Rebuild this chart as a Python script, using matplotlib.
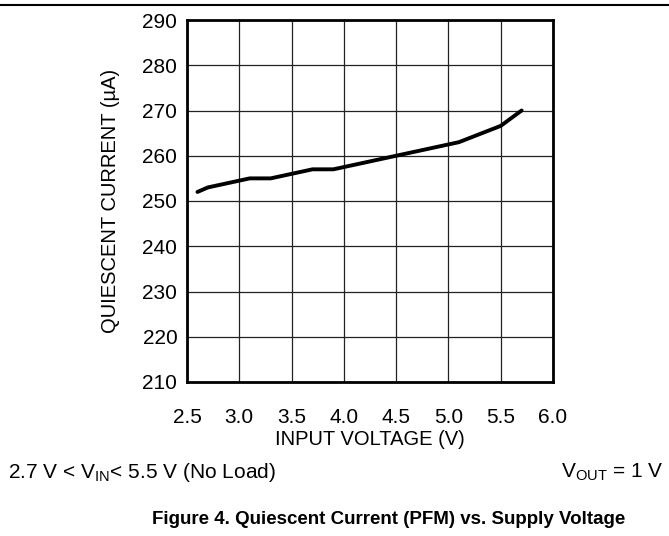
import matplotlib
matplotlib.use('Agg')
import matplotlib.pyplot as plt
from matplotlib.lines import Line2D

plt.rcParams['font.family'] = ['Liberation Sans', 'DejaVu Sans']
plt.rcParams['mathtext.fontset'] = 'custom'
plt.rcParams['mathtext.rm'] = 'Liberation Sans'

vin = [2.6, 2.7, 3.1, 3.3, 3.7, 3.9, 4.5, 5.1, 5.5, 5.7]
iq = [252.0, 253.0, 255.0, 255.0, 257.0, 257.0, 260.0, 263.0, 266.6, 270.0]

xticks = [2.5, 3.0, 3.5, 4.0, 4.5, 5.0, 5.5, 6.0]
yticks = [210, 220, 230, 240, 250, 260, 270, 280, 290]

fig = plt.figure(figsize=(6.69, 5.36), dpi=100)
ax = fig.add_axes([187/669, 1-382/536, (553-187)/669, (382-20)/536])

ax.plot(vin, iq, color='black', lw=2.8, solid_capstyle='round')
ax.set_xlim(2.5, 6.0)
ax.set_ylim(210, 290)
ax.set_xticks(xticks)
ax.set_xticklabels(['%.1f' % v for v in xticks])
ax.set_yticks(yticks)
ax.grid(True, color='#222222', lw=0.9)
ax.tick_params(length=0, labelsize=15, pad=7)
ax.tick_params(axis='x', pad=19)
for s in ax.spines.values():
    s.set_linewidth(2.0)

ax.set_xlabel('INPUT VOLTAGE (V)', fontsize=14.5, labelpad=2)
ax.set_ylabel('QUIESCENT CURRENT (\u00b5A)', fontsize=14.5, labelpad=16)

fig.text(8/669, 1-472/536, r'2.7 V < V$_{\mathrm{IN}}$< 5.5 V (No Load)', fontsize=15,
         va='center', ha='left')
fig.text(664/669, 1-472/536, r'V$_{\mathrm{OUT}}$ = 1 V', fontsize=15,
         va='center', ha='right')
fig.text(389/669, 1-520/536, 'Figure 4. Quiescent Current (PFM) vs. Supply Voltage',
         fontsize=13.5, fontweight='bold', ha='center', va='center')

fig.add_artist(Line2D([0, 1], [1-5/536, 1-5/536], color='black', lw=1.5,
                      transform=fig.transFigure))

plt.savefig('out.png', dpi=100)
